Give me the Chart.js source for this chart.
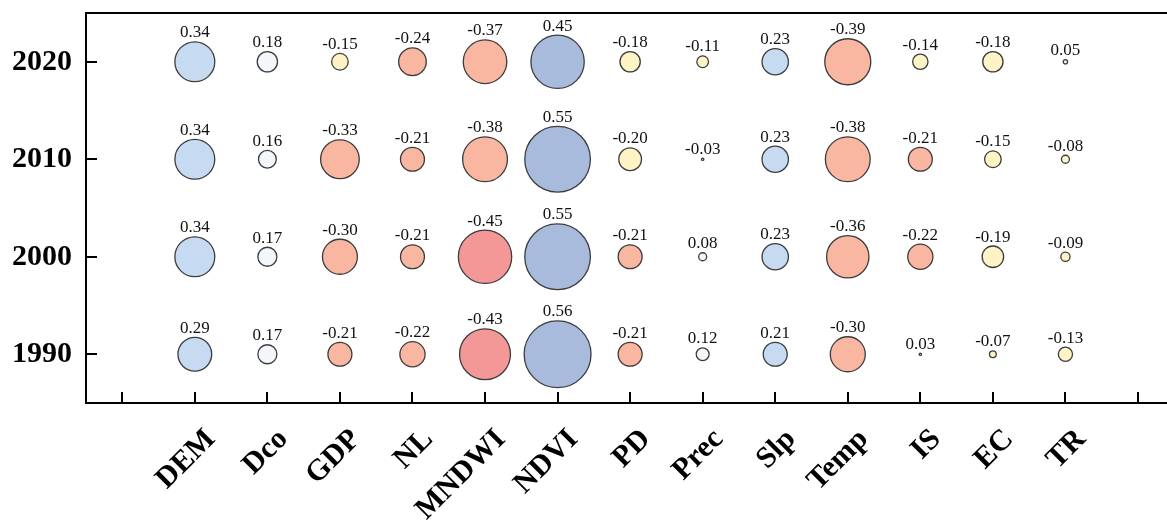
<!DOCTYPE html>
<html><head><meta charset="utf-8">
<script src="https://cdn.jsdelivr.net/npm/chart.js@4.4.1/dist/chart.umd.min.js"></script>
<style>html,body{margin:0;padding:0;background:#fff;}#wrap{width:1167px;height:520px;}</style>
</head><body><div id="wrap"><canvas id="c" width="1167" height="520"></canvas></div>
<script>
const categories = ['DEM','Dco','GDP','NL','MNDWI','NDVI','PD','Prec','Slp','Temp','IS','EC','TR'];
const years = [1990, 2000, 2010, 2020];
const values2020 = [0.34, 0.18, -0.15, -0.24, -0.37, 0.45, -0.18, -0.11, 0.23, -0.39, -0.14, -0.18, 0.05];
const values2010 = [0.34, 0.16, -0.33, -0.21, -0.38, 0.55, -0.20, -0.03, 0.23, -0.38, -0.21, -0.15, -0.08];
const values2000 = [0.34, 0.17, -0.30, -0.21, -0.45, 0.55, -0.21, 0.08, 0.23, -0.36, -0.22, -0.19, -0.09];
const values1990 = [0.29, 0.17, -0.21, -0.22, -0.43, 0.56, -0.21, 0.12, 0.21, -0.30, 0.03, -0.07, -0.13];
const xTickValues = [0,1,2,3,4,5,6,7,8,9,10,11,12,13,14];
const yTickValues = [1990, 2000, 2010, 2020];

const seriesByYear = {1990: values1990, 2000: values2000, 2010: values2010, 2020: values2020};

function colorFor(v){
  if (v >= 0.4) return '#a8bbdc';
  if (v >= 0.2) return '#c6daf1';
  if (v >= 0) return '#f3f7fc';
  if (v >= -0.205) return '#fdf3c4';
  if (v >= -0.4) return '#f9b6a1';
  return '#f39897';
}
function radiusFor(v){
  return Math.max(1.2, 61.3*Math.abs(v) - 0.9);
}

const points = [];
years.forEach(y => {
  seriesByYear[y].forEach((v, i) => points.push({x: i+1, y: y, v: v}));
});

// keep the plot area where the reference has it (no automatic bubble overflow padding)
const BubbleCtrl = Chart.registry.getController('bubble');
BubbleCtrl.prototype.getMaxOverflow = function(){ return false; };

const framePlugin = {
  id: 'frame',
  afterDraw(chart){
    const {ctx, chartArea: a, scales: {x, y}} = chart;
    ctx.save();
    ctx.strokeStyle = '#000';
    ctx.lineWidth = 2;
    ctx.beginPath();
    ctx.moveTo(a.left, a.top); ctx.lineTo(chart.width, a.top);
    ctx.moveTo(a.left, a.top - 1); ctx.lineTo(a.left, a.bottom + 1);
    ctx.moveTo(a.left, a.bottom); ctx.lineTo(chart.width, a.bottom);
    xTickValues.forEach(t => {
      const px = Math.round(x.getPixelForValue(t));
      ctx.moveTo(px, a.bottom); ctx.lineTo(px, a.bottom - 11);
    });
    yTickValues.forEach(t => {
      const py = Math.round(y.getPixelForValue(t));
      ctx.moveTo(a.left, py); ctx.lineTo(a.left + 11, py);
    });
    ctx.stroke();
    ctx.restore();
  },
  afterDatasetsDraw(chart){
    const {ctx} = chart;
    const meta = chart.getDatasetMeta(0);
    ctx.save();
    ctx.fillStyle = '#111';
    ctx.font = '17px "Liberation Serif", "Times New Roman", serif';
    ctx.textAlign = 'center';
    ctx.textBaseline = 'alphabetic';
    meta.data.forEach((el, i) => {
      const p = points[i];
      const r = el.options.radius;
      ctx.fillText(p.v.toFixed(2), el.x, el.y - r - 4.5);
    });
    ctx.restore();
  }
};

new Chart(document.getElementById('c'), {
  type: 'bubble',
  data: {
    datasets: [{
      data: points,
      backgroundColor: c => colorFor(c.raw ? c.raw.v : 0),
      borderColor: '#3c3c3c',
      borderWidth: 1.3,
      radius: c => radiusFor(c.raw ? c.raw.v : 0),
      hoverRadius: 0,
      clip: false
    }]
  },
  options: {
    responsive: false,
    animation: false,
    events: [],
    layout: {padding: {top: 13, right: 0, left: 0, bottom: 0}},
    plugins: {legend: {display: false}, tooltip: {enabled: false}},
    scales: {
      x: {
        type: 'linear', min: -0.5, max: 14.4,
        afterBuildTicks: s => { s.ticks = xTickValues.map(v => ({value: v})); },
        afterFit: s => { s.height = 117; s.paddingLeft = 0; s.paddingRight = 0; },
        grid: {display: false, drawTicks: false},
        border: {display: false},
        ticks: {
          autoSkip: false, minRotation: 45, maxRotation: 45, padding: 19, labelOffset: 16,
          color: '#000',
          font: {family: '"Liberation Serif", "Times New Roman", serif', size: 30, weight: 'bold'},
          callback: v => categories[v - 1] || ''
        }
      },
      y: {
        type: 'linear', min: 1985, max: 2025,
        afterBuildTicks: s => { s.ticks = yTickValues.map(v => ({value: v})); },
        afterFit: s => { s.width = 86; s.paddingTop = 0; s.paddingBottom = 0; },
        grid: {display: false, drawTicks: false},
        border: {display: false},
        ticks: {
          padding: 14, color: '#000',
          font: {family: '"Liberation Serif", "Times New Roman", serif', size: 30, weight: 'bold'},
          callback: v => String(v)
        }
      }
    }
  },
  plugins: [framePlugin]
});
</script></body></html>
